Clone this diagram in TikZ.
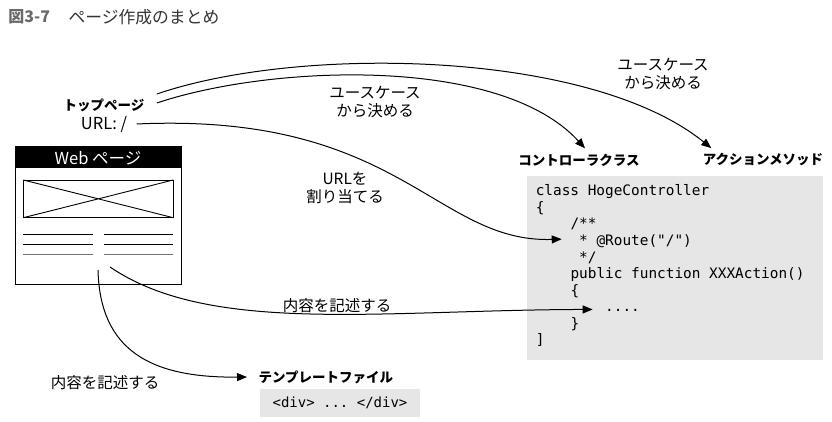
\documentclass[tikz,border=0pt]{standalone}
\usepackage{fontspec}
\setmainfont{Noto Sans CJK JP}
\setmonofont{DejaVu Sans Mono}
\usetikzlibrary{arrows.meta}

\definecolor{codebg}{RGB}{230,230,230}
\definecolor{figgray}{RGB}{105,105,105}

\tikzset{
  lbl/.style={font=\fontsize{15.5}{18}\selectfont,inner sep=0pt,align=center},
  hd/.style={font=\fontsize{13.5}{16}\selectfont\bfseries,inner sep=0pt},
  code/.style={font=\ttfamily\fontsize{14.4}{16}\selectfont,anchor=base west,inner sep=0pt},
  flow/.style={->,line width=1pt},
}

\begin{document}
\begin{tikzpicture}[x=1pt,y=-1pt,line width=1pt,>={Triangle[length=10pt,width=8pt]}]
\useasboundingbox (0,0) rectangle (832,422);
% ---------- 見出し ----------
\node[anchor=west,inner sep=0pt,text=figgray,font=\fontsize{16}{18}\selectfont\bfseries] (fignum) at (8,17) {図3-7};
\node[anchor=west,inner sep=0pt,text=black!80,font=\fontsize{16.8}{18}\selectfont] (figtitle) at (68,17) {ページ作成のまとめ};
% ---------- トップページ ----------
\node[hd] (top) at (104,105) {トップページ};
\node[lbl,font=\fontsize{16.5}{18}\selectfont] (url) at (104,124) {URL: /};
% ---------- Web ページ ----------
\node[draw,line width=1pt,minimum width=166pt,minimum height=137pt,inner sep=0pt] (web) at (98,215.5) {};
\node[fill=black,text=white,anchor=north,minimum width=166pt,minimum height=21.5pt,inner sep=0pt,
      font=\fontsize{16.5}{18}\selectfont] (webhead) at (web.north) {Web ページ};
\draw[line width=0.9pt] (23.3,180) rectangle (173.3,217.7);
\draw[line width=0.9pt] (23.3,180) -- (173.3,217.7) (23.3,217.7) -- (173.3,180);
\foreach \y/\c in {234.3/black,244.3/black,254.3/black!55}
  \draw[line width=0.9pt,\c] (23.3,\y) -- (93,\y) (104,\y) -- (173.3,\y);
\coordinate (webA) at (110,267);
\coordinate (webB) at (98,270);
% ---------- コントローラクラス ----------
\node[hd] (ctrl) at (579,160) {コントローラクラス};
\node[hd] (act) at (763,160) {アクションメソッド};
\fill[codebg] (527,176) rectangle (823,360);
\node[code] (c1) at (535.3,196) {class HogeController};
\node[code] (c2) at (535.3,212.5) {\{};
\node[code] (c3) at (570,229) {/**};
\node[code] (c4) at (578.7,245.5) {* @Route("/")};
\node[code] (c5) at (578.7,262) {*/};
\node[code] (c6) at (570,278.5) {public function XXXAction()};
\node[code] (c7) at (570,295) {\{};
\node[code] (c8) at (604.7,311.5) {....};
\node[code] (c9) at (570,328) {\}};
\node[code] (c10) at (535.3,344.5) {]};
% ---------- テンプレートファイル ----------
\node[hd,anchor=west] (tmpl) at (258,377) {テンプレートファイル};
\node[fill=codebg,minimum width=160pt,minimum height=28pt,inner sep=0pt,
      font=\ttfamily\fontsize{14}{16}\selectfont] (tmplcode) at (340,403) {<div> ... </div>};
% ---------- 矢印 ----------
\draw[flow] ([xshift=12pt,yshift=11pt]top.east) .. controls (300,45) and (590,50) .. ([xshift=9pt,yshift=5pt]act.north west);
\draw[flow] ([xshift=12pt,yshift=2pt]top.east) .. controls (270,65) and (500,55) .. ([xshift=6pt,yshift=5pt]ctrl.north);
\draw[flow] ([xshift=9pt]url.east) .. controls (400,112) and (435,243) .. ([xshift=-17pt,yshift=2pt]c4.west);
\draw[flow] (webA) .. controls (210,335) and (380,310) .. ([xshift=-12pt,yshift=1pt]c8.west);
\draw[flow] (webB) .. controls (100,350) and (150,378) .. ([xshift=-11pt]tmpl.west);
% ---------- ラベル ----------
\node[lbl] (uc1) at (663,74) {ユースケース\\から決める};
\node[lbl] (uc2) at (375,102) {ユースケース\\から決める};
\node[lbl] (assign) at (345,188) {URLを\\割り当てる};
\node[lbl] (write1) at (337,306) {内容を記述する};
\node[lbl] (write2) at (105,383) {内容を記述する};
\end{tikzpicture}
\end{document}
